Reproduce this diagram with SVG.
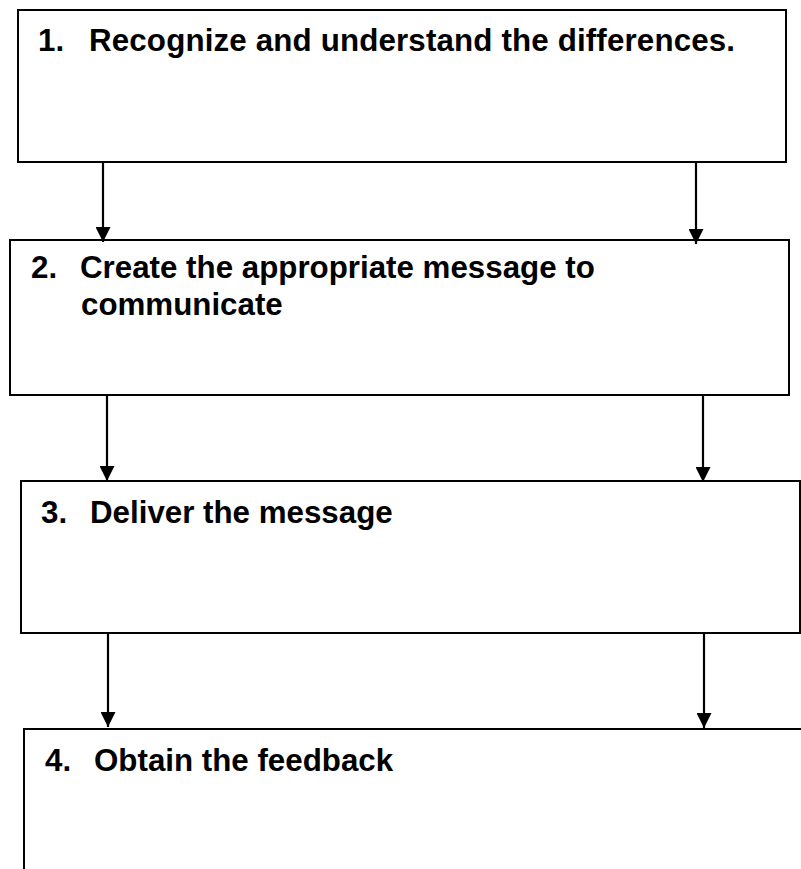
<svg xmlns="http://www.w3.org/2000/svg" width="801" height="869" viewBox="0 0 801 869">
  <style>
    .box { fill: #ffffff; stroke: #000000; stroke-width: 2; }
    .label { font-family: "Liberation Sans", Arial, sans-serif; font-weight: bold; font-size: 31.3px; fill: #000000; }
    .conn { stroke: #000000; stroke-width: 2.2; fill: none; }
  </style>
  <defs>
    <marker id="arrow" markerUnits="userSpaceOnUse" viewBox="0 0 15 15" refX="15" refY="7.5" markerWidth="15" markerHeight="15" orient="auto">
      <path d="M0,0 L15,7.5 L0,15 Z" fill="#000000"/>
    </marker>
  </defs>
  <rect x="0" y="0" width="801" height="869" fill="#ffffff"/>

  <g id="node1">
    <rect class="box" x="18" y="10" width="768" height="152"/>
    <text class="label" y="51"><tspan x="38">1.</tspan><tspan x="89" textLength="646">Recognize and understand the differences.</tspan></text>
  </g>
  <g id="node2">
    <rect class="box" x="10" y="240" width="779" height="155"/>
    <text class="label" y="278"><tspan x="31">2.</tspan><tspan x="80">Create the appropriate message to</tspan></text>
    <text class="label" x="81" y="315">communicate</text>
  </g>
  <g id="node3">
    <rect class="box" x="21" y="481" width="779" height="152"/>
    <text class="label" y="523"><tspan x="41">3.</tspan><tspan x="90">Deliver the message</tspan></text>
  </g>
  <g id="node4">
    <path class="box" d="M812,729 L24,729 L24,880"/>
    <text class="label" y="771"><tspan x="45">4.</tspan><tspan x="94">Obtain the feedback</tspan></text>
  </g>

  <g id="connectors">
    <line class="conn" x1="103" y1="162" x2="103" y2="242" marker-end="url(#arrow)"/>
    <line class="conn" x1="696" y1="162" x2="696" y2="244" marker-end="url(#arrow)"/>
    <line class="conn" x1="107" y1="395" x2="107" y2="481" marker-end="url(#arrow)"/>
    <line class="conn" x1="703" y1="395" x2="703" y2="482" marker-end="url(#arrow)"/>
    <line class="conn" x1="108" y1="633" x2="108" y2="727" marker-end="url(#arrow)"/>
    <line class="conn" x1="704" y1="633" x2="704" y2="728" marker-end="url(#arrow)"/>
  </g>
</svg>
